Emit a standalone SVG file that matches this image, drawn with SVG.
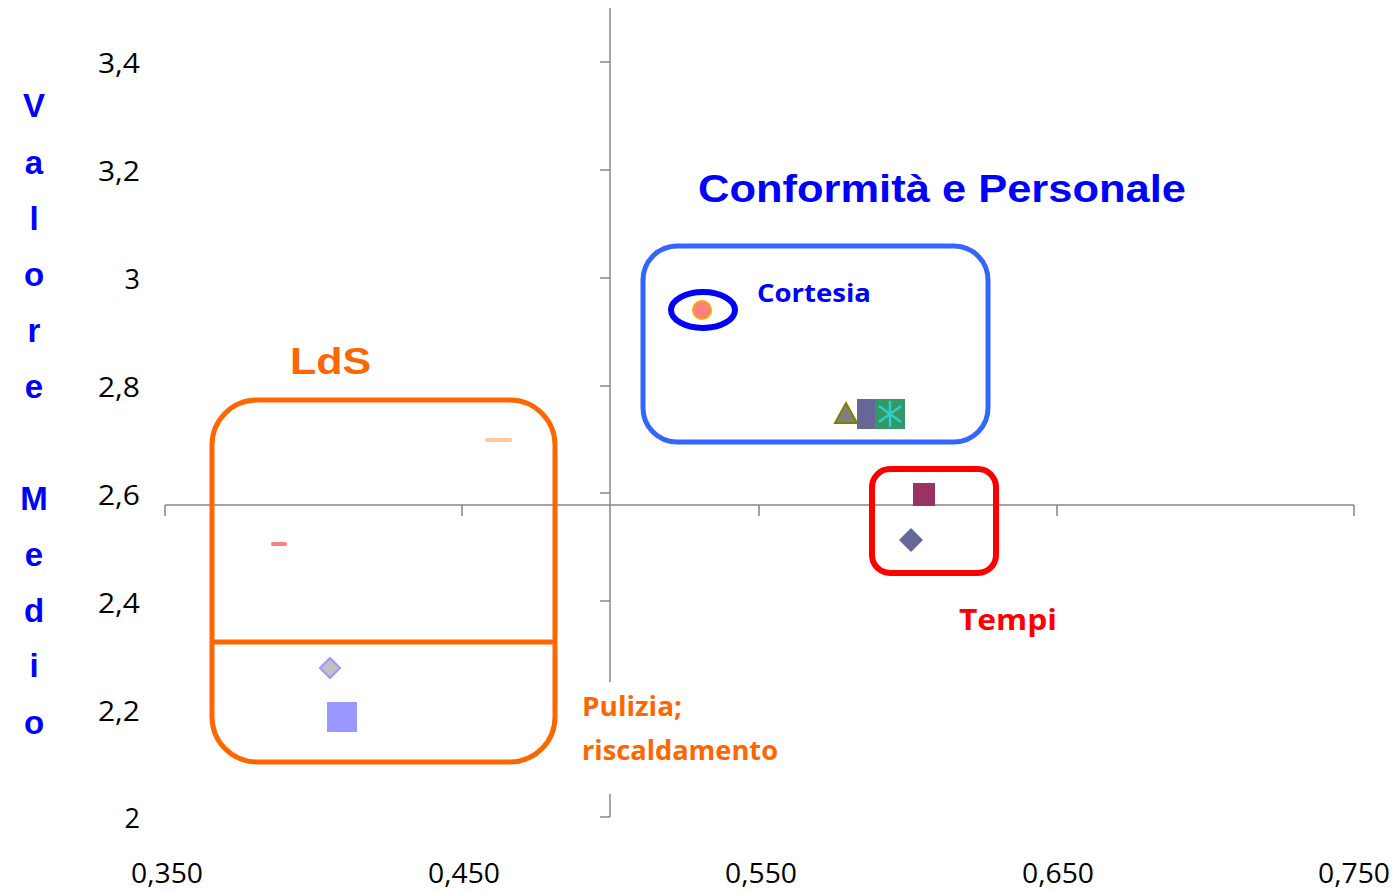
<svg xmlns="http://www.w3.org/2000/svg" width="1396" height="891" viewBox="0 0 1396 891">
<style>
.ax{stroke:#868686;stroke-width:1.5;fill:none}
.tk{font-family:"Open Sans","Liberation Sans",sans-serif;font-size:27px;fill:#000}
.yl{font-family:"Liberation Sans",Arial,sans-serif;font-weight:bold;font-size:33px;fill:#0000FF;text-anchor:middle}
.lb{font-family:"Open Sans","Liberation Sans",sans-serif;font-weight:bold}
</style>
<rect width="1396" height="891" fill="#fff"/>
<g id="axes">
<path class="ax" d="M610,8V817M165,505H1354"/>
<path class="ax" d="M600,62H610M600,170H610M600,278H610M600,386H610M600,493H610M600,601H610M600,709H610M600,817H610"/>
<path class="ax" d="M165,505V516M462,505V516M759,505V516M1057,505V516M1354,505V516"/>
</g>
<g id="ytick-labels" class="tk" text-anchor="end">
<text x="140" y="73" textLength="42" lengthAdjust="spacingAndGlyphs">3,4</text>
<text x="140" y="181" textLength="42" lengthAdjust="spacingAndGlyphs">3,2</text>
<text x="140" y="289">3</text>
<text x="140" y="397" textLength="42" lengthAdjust="spacingAndGlyphs">2,8</text>
<text x="140" y="505" textLength="42" lengthAdjust="spacingAndGlyphs">2,6</text>
<text x="140" y="613" textLength="42" lengthAdjust="spacingAndGlyphs">2,4</text>
<text x="140" y="721" textLength="42" lengthAdjust="spacingAndGlyphs">2,2</text>
<text x="140" y="828">2</text>
</g>
<g id="xtick-labels" class="tk" text-anchor="middle">
<text x="167" y="883" textLength="72" lengthAdjust="spacingAndGlyphs">0,350</text>
<text x="464" y="883" textLength="72" lengthAdjust="spacingAndGlyphs">0,450</text>
<text x="761" y="883" textLength="72" lengthAdjust="spacingAndGlyphs">0,550</text>
<text x="1058" y="883" textLength="72" lengthAdjust="spacingAndGlyphs">0,650</text>
<text x="1354" y="883" textLength="72" lengthAdjust="spacingAndGlyphs">0,750</text>
</g>
<g id="y-title">
<text class="yl" x="34" y="117">V</text>
<text class="yl" x="34" y="174">a</text>
<text class="yl" x="34" y="230">l</text>
<text class="yl" x="34" y="286">o</text>
<text class="yl" x="34" y="342">r</text>
<text class="yl" x="34" y="398">e</text>
<text class="yl" x="34" y="510">M</text>
<text class="yl" x="34" y="566">e</text>
<text class="yl" x="34" y="622">d</text>
<text class="yl" x="34" y="677">i</text>
<text class="yl" x="34" y="734">o</text>
</g>
<g id="group-conformita">
<rect x="643" y="246" width="345" height="196" rx="34" fill="none" stroke="#3366FF" stroke-width="5"/>
<text x="698" y="202" font-family="Liberation Sans,Arial,sans-serif" font-weight="bold" font-size="38" fill="#0000FF" textLength="488" lengthAdjust="spacingAndGlyphs">Conformità e Personale</text>
</g>
<g id="cortesia">
<ellipse cx="703" cy="310" rx="32" ry="18" fill="none" stroke="#0000FF" stroke-width="6"/>
<circle cx="702" cy="310" r="9" fill="#FF8080" stroke="#FFA500" stroke-width="2"/>
<text class="lb" x="757" y="302" font-size="25" fill="#0000FF" textLength="114" lengthAdjust="spacingAndGlyphs">Cortesia</text>
</g>
<g id="points-conformita">
<polygon points="835,423 857,423 846,403" fill="#808080" stroke="#808000" stroke-width="2"/>
<rect x="857" y="399" width="30" height="30" fill="#666699"/>
<rect x="875" y="399" width="30" height="30" fill="#339966"/>
<path d="M890,401V427M879,406L901,422M879,422L901,406" stroke="#33CCCC" stroke-width="2.5"/>
</g>
<g id="group-tempi">
<rect x="872" y="469" width="124" height="104" rx="18" fill="none" stroke="#FF0000" stroke-width="6"/>
<rect x="913" y="483" width="22" height="23" fill="#993366"/>
<polygon points="911,528 923,540 911,552 899,540" fill="#666699"/>
<text class="lb" x="959" y="630" font-size="28" fill="#FF0000" textLength="98" lengthAdjust="spacingAndGlyphs">Tempi</text>
</g>
<g id="group-lds">
<rect x="212" y="400" width="343" height="362" rx="45" fill="none" stroke="#FF6600" stroke-width="5"/>
<line x1="212" y1="642" x2="555" y2="642" stroke="#FF6600" stroke-width="5"/>
<text x="290" y="374" font-family="Liberation Sans,Arial,sans-serif" font-weight="bold" font-size="36" fill="#FF6600" textLength="81" lengthAdjust="spacingAndGlyphs">LdS</text>
<line x1="487" y1="440" x2="510" y2="440" stroke="#FFCC99" stroke-width="4" stroke-linecap="round"/>
<line x1="273" y1="544" x2="285" y2="544" stroke="#FF8080" stroke-width="4" stroke-linecap="round"/>
<polygon points="330,658 340,668 330,678 320,668" fill="#C0C0C0" stroke="#9999FF" stroke-width="2"/>
<rect x="327" y="702" width="30" height="30" fill="#9999FF"/>
</g>
<g id="label-pulizia">
<rect x="574" y="682" width="216" height="112" fill="#fff"/>
<text class="lb" x="582" y="716" font-size="26" fill="#FF6600" textLength="100" lengthAdjust="spacingAndGlyphs">Pulizia;</text>
<text class="lb" x="582" y="760" font-size="26" fill="#FF6600" textLength="196" lengthAdjust="spacingAndGlyphs">riscaldamento</text>
</g>
</svg>
